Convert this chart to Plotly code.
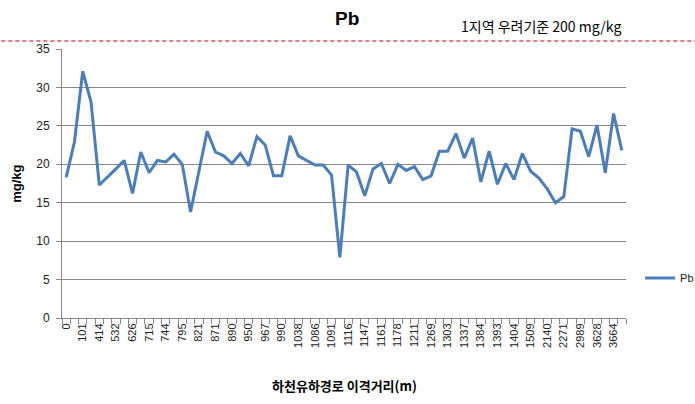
import plotly.graph_objects as go

# Visible category labels (every other category is labelled)
tick_labels = ["0", "101", "414", "532", "626", "715", "744", "795", "821", "871",
               "890", "950", "967", "990", "1038", "1086", "1091", "1116", "1147",
               "1161", "1178", "1211", "1269", "1303", "1337", "1384", "1393", "1404",
               "1509", "2140", "2271", "2989", "3628", "3664"]

# Pb concentration (mg/kg), 68 samples
pb_values = [18.3, 22.9, 32.1, 28.1, 17.3, 18.3, 19.4, 20.5, 16.2, 21.6,
             18.9, 20.5, 20.3, 21.3, 20.0, 13.8, 19.0, 24.3, 21.6, 21.1,
             20.1, 21.4, 19.8, 23.6, 22.5, 18.5, 18.5, 23.7, 21.1, 20.5,
             19.9, 19.9, 18.6, 7.9, 19.9, 19.0, 15.9, 19.4, 20.1, 17.5,
             20.0, 19.2, 19.7, 18.0, 18.5, 21.7, 21.7, 24.0, 20.8, 23.4,
             17.7, 21.7, 17.4, 20.1, 18.0, 21.4, 19.1, 18.2, 16.8, 15.0,
             15.8, 24.6, 24.3, 21.0, 25.1, 18.9, 26.6, 21.8]

y_ticks = [0, 5, 10, 15, 20, 25, 30, 35]

x_idx = list(range(len(pb_values)))
label_pos = x_idx[::2][:len(tick_labels)]

KR = "Noto Sans CJK KR"
NUM = "Liberation Sans"

fig = go.Figure()
fig.add_trace(go.Scatter(
    x=x_idx, y=pb_values, mode="lines", name="Pb",
    line=dict(color="#4a7ebb", width=3),
))

fig.update_layout(
    width=695, height=404,
    margin=dict(l=62, r=69, t=49, b=86, autoexpand=False),
    paper_bgcolor="white", plot_bgcolor="white",
    showlegend=True,
    legend=dict(x=1.025, y=0.149, xanchor="left", yanchor="middle",
                font=dict(family=NUM, size=11, color="#222"),
                bgcolor="rgba(0,0,0,0)"),
    xaxis=dict(
        automargin=False,
        range=[-0.5, len(pb_values) - 0.5],
        tickmode="array", tickvals=label_pos, ticktext=tick_labels,
        tickangle=-90, ticks="", ticklen=0,
        tickfont=dict(family=NUM, size=11, color="#222"),
        showgrid=False, zeroline=False,
        showline=True, linecolor="#868686", linewidth=1,
        minor=dict(tickmode="linear", tick0=-0.5, dtick=1, ticks="outside",
                   ticklen=5, tickcolor="#868686", tickwidth=1, showgrid=False),
    ),
    yaxis=dict(
        automargin=False,
        range=[0, 35], tickmode="array", tickvals=y_ticks,
        ticks="outside", ticklen=5, tickcolor="#868686",
        ticklabelstandoff=4,
        tickfont=dict(family=NUM, size=12, color="#222"),
        showgrid=True, gridcolor="#868686", gridwidth=1,
        zeroline=False, showline=True, linecolor="#868686", linewidth=1,
    ),
    shapes=[dict(type="line", xref="paper", yref="paper",
                 x0=-0.12, x1=1.13, y0=1.0297, y1=1.0297,
                 line=dict(color="#c00000", width=1, dash="4px,3px"))],
    annotations=[
        dict(text="<b>Pb</b>", xref="paper", yref="paper", x=0.505, y=1.112,
             xanchor="center", yanchor="middle", showarrow=False,
             font=dict(family=NUM, size=19, color="black")),
        dict(text="1지역 우려기준 200 mg/kg", xref="paper", yref="paper",
             x=0.849, y=1.084, xanchor="center", yanchor="middle", showarrow=False,
             font=dict(family=KR, size=14, color="black")),
        dict(text="<b>mg/kg</b>", xref="paper", yref="paper", x=-0.081, y=0.5,
             xanchor="center", yanchor="middle", textangle=-90, showarrow=False,
             font=dict(family=NUM, size=13, color="black")),
        dict(text="<b>하천유하경로 이격거리(m)</b>", xref="paper", yref="paper",
             x=0.5, y=-0.25, xanchor="center", yanchor="middle", showarrow=False,
             font=dict(family=KR, size=13, color="black")),
    ],
)

fig.write_html("out.html",
               config={"displayModeBar": False},
               post_script="document.body.style.margin='0';"
                           "document.body.style.overflow='hidden';")
